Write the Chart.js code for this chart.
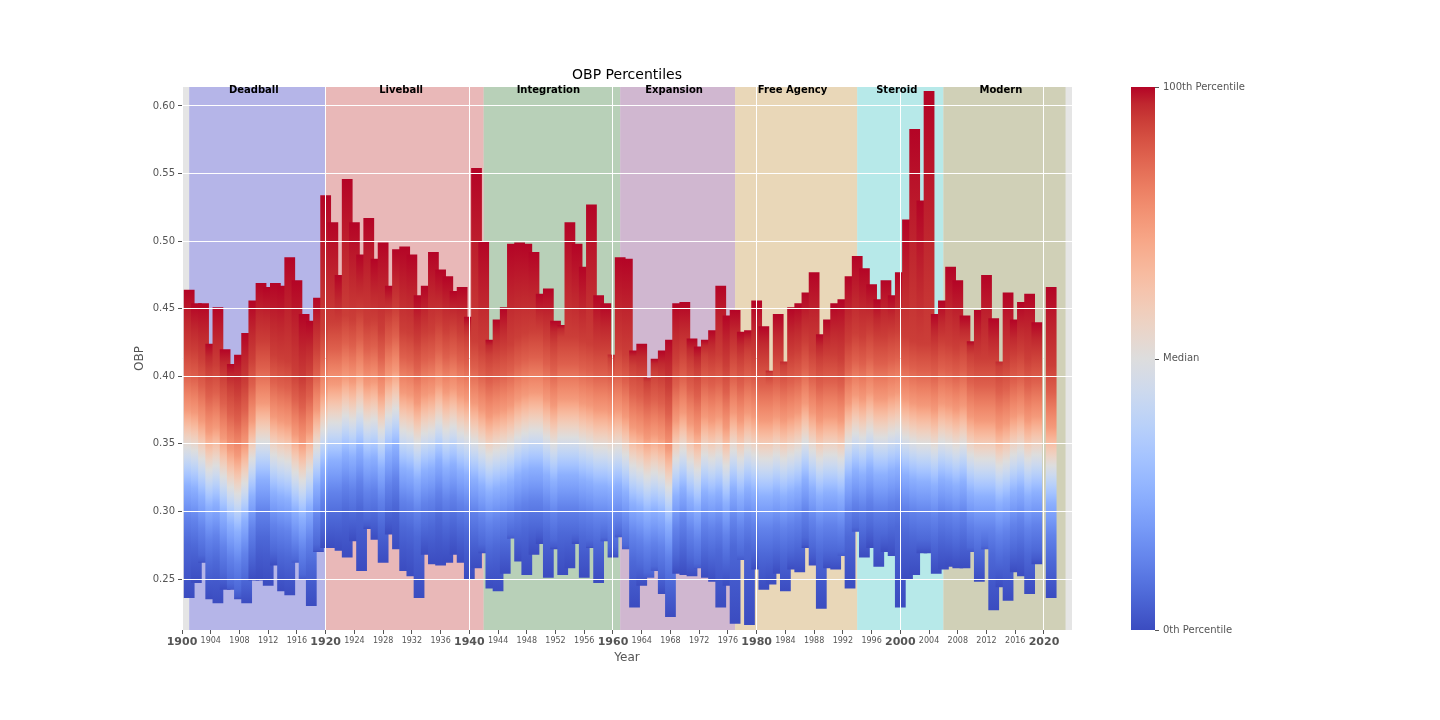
<!DOCTYPE html>
<html>
<head>
<meta charset="utf-8">
<title>OBP Percentiles</title>
<script src="https://cdn.jsdelivr.net/npm/chart.js@4.4.1/dist/chart.umd.min.js"></script>
<style>
    html, body { margin: 0; padding: 0; background: #fff; }
    #wrap { width: 1440px; height: 720px; }
</style>
</head>
<body>
<div id="wrap"><canvas id="obpChart" width="1440" height="720"></canvas></div>
<script>
// Seasons (2020 is missing in the source picture)
const years = [
    1901, 1902, 1903, 1904, 1905, 1906, 1907, 1908, 1909, 1910,
    1911, 1912, 1913, 1914, 1915, 1916, 1917, 1918, 1919, 1920,
    1921, 1922, 1923, 1924, 1925, 1926, 1927, 1928, 1929, 1930,
    1931, 1932, 1933, 1934, 1935, 1936, 1937, 1938, 1939, 1940,
    1941, 1942, 1943, 1944, 1945, 1946, 1947, 1948, 1949, 1950,
    1951, 1952, 1953, 1954, 1955, 1956, 1957, 1958, 1959, 1960,
    1961, 1962, 1963, 1964, 1965, 1966, 1967, 1968, 1969, 1970,
    1971, 1972, 1973, 1974, 1975, 1976, 1977, 1978, 1979, 1980,
    1981, 1982, 1983, 1984, 1985, 1986, 1987, 1988, 1989, 1990,
    1991, 1992, 1993, 1994, 1995, 1996, 1997, 1998, 1999, 2000,
    2001, 2002, 2003, 2004, 2005, 2006, 2007, 2008, 2009, 2010,
    2011, 2012, 2013, 2014, 2015, 2016, 2017, 2018, 2019, 2021
];

// 0th percentile OBP per season
const obpMin = [
    0.236, 0.247, 0.262, 0.235, 0.232, 0.242, 0.242, 0.235, 0.232, 0.249,
    0.249, 0.245, 0.260, 0.241, 0.238, 0.262, 0.250, 0.230, 0.270, 0.273,
    0.273, 0.271, 0.266, 0.278, 0.256, 0.287, 0.279, 0.262, 0.283, 0.272,
    0.256, 0.252, 0.236, 0.268, 0.261, 0.260, 0.262, 0.268, 0.262, 0.250,
    0.258, 0.269, 0.243, 0.241, 0.254, 0.280, 0.263, 0.253, 0.268, 0.276,
    0.251, 0.272, 0.253, 0.258, 0.276, 0.251, 0.273, 0.247, 0.278, 0.266,
    0.281, 0.272, 0.229, 0.245, 0.251, 0.256, 0.239, 0.222, 0.254, 0.253,
    0.252, 0.258, 0.251, 0.248, 0.229, 0.245, 0.217, 0.264, 0.216, 0.257,
    0.242, 0.246, 0.254, 0.241, 0.257, 0.255, 0.273, 0.260, 0.228, 0.258,
    0.257, 0.267, 0.243, 0.285, 0.266, 0.273, 0.259, 0.270, 0.267, 0.229,
    0.250, 0.253, 0.269, 0.269, 0.254, 0.257, 0.259, 0.258, 0.258, 0.270,
    0.248, 0.272, 0.227, 0.244, 0.234, 0.255, 0.252, 0.239, 0.261, 0.236
];

// median OBP per season
const obpMedian = [
    0.347, 0.345, 0.339, 0.331, 0.334, 0.326, 0.318, 0.313, 0.321, 0.339,
    0.352, 0.352, 0.342, 0.339, 0.337, 0.329, 0.323, 0.331, 0.347, 0.360,
    0.366, 0.366, 0.371, 0.368, 0.374, 0.366, 0.368, 0.360, 0.371, 0.376,
    0.360, 0.358, 0.352, 0.358, 0.360, 0.366, 0.360, 0.363, 0.358, 0.355,
    0.352, 0.347, 0.342, 0.345, 0.347, 0.350, 0.355, 0.358, 0.360, 0.360,
    0.355, 0.350, 0.355, 0.355, 0.355, 0.352, 0.350, 0.347, 0.347, 0.345,
    0.347, 0.342, 0.334, 0.331, 0.326, 0.329, 0.326, 0.318, 0.339, 0.345,
    0.337, 0.331, 0.342, 0.339, 0.342, 0.334, 0.345, 0.339, 0.345, 0.342,
    0.339, 0.339, 0.342, 0.339, 0.342, 0.345, 0.352, 0.345, 0.339, 0.342,
    0.342, 0.339, 0.352, 0.358, 0.355, 0.360, 0.355, 0.355, 0.358, 0.360,
    0.355, 0.352, 0.350, 0.350, 0.347, 0.352, 0.350, 0.347, 0.350, 0.342,
    0.339, 0.339, 0.339, 0.334, 0.337, 0.342, 0.345, 0.339, 0.342, 0.334
];

// 100th percentile OBP per season
const obpMax = [
    0.464, 0.454, 0.454, 0.424, 0.451, 0.420, 0.409, 0.416, 0.432, 0.456,
    0.469, 0.466, 0.469, 0.467, 0.488, 0.471, 0.446, 0.441, 0.458, 0.534,
    0.514, 0.475, 0.546, 0.514, 0.490, 0.517, 0.487, 0.499, 0.467, 0.494,
    0.496, 0.490, 0.460, 0.467, 0.492, 0.479, 0.474, 0.463, 0.466, 0.444,
    0.554, 0.500, 0.427, 0.442, 0.451, 0.498, 0.499, 0.498, 0.492, 0.461,
    0.465, 0.441, 0.438, 0.514, 0.498, 0.481, 0.527, 0.460, 0.454, 0.416,
    0.488, 0.487, 0.419, 0.424, 0.399, 0.413, 0.419, 0.427, 0.454, 0.455,
    0.428, 0.422, 0.427, 0.434, 0.467, 0.445, 0.449, 0.433, 0.434, 0.456,
    0.437, 0.404, 0.446, 0.411, 0.451, 0.454, 0.462, 0.477, 0.431, 0.442,
    0.454, 0.457, 0.474, 0.489, 0.480, 0.468, 0.457, 0.471, 0.460, 0.477,
    0.516, 0.583, 0.530, 0.611, 0.446, 0.456, 0.481, 0.471, 0.445, 0.426,
    0.449, 0.475, 0.443, 0.411, 0.462, 0.442, 0.455, 0.461, 0.440, 0.466
];

// typical spread of the percentiles around the median
const quantileLevels = [0.05, 0.125, 0.25, 0.5, 0.75, 0.875, 0.95];
const quantileOffsets = [-0.075, -0.052, -0.028, 0, 0.028, 0.054, 0.078];

// eras: first season and the season after the last one
const eraNames = ['Deadball', 'Liveball', 'Integration', 'Expansion', 'Free Agency', 'Steroid', 'Modern'];
const eraStart = [1901, 1920, 1942, 1961, 1977, 1994, 2006];
const eraEnd = [1920, 1942, 1961, 1977, 1994, 2006, 2023];
const eraColors = ['#b5b5e8', '#e9b8b8', '#b8d0b8', '#d0b7d0', '#e9d7b8', '#b7e9e9', '#d0d0b7'];

// ticks
const yearTicks = [1900, 1904, 1908, 1912, 1916, 1920, 1924, 1928, 1932, 1936, 1940,
    1944, 1948, 1952, 1956, 1960, 1964, 1968, 1972, 1976, 1980,
    1984, 1988, 1992, 1996, 2000, 2004, 2008, 2012, 2016, 2020];
const majorYears = [1900, 1920, 1940, 1960, 1980, 2000, 2020];
const obpTicks = [0.25, 0.30, 0.35, 0.40, 0.45, 0.50, 0.55, 0.60];
const colorbarLabels = ['0th Percentile', 'Median', '100th Percentile'];

// coolwarm colormap
const CMAP = [
    [59, 76, 192], [68, 90, 204], [77, 104, 215], [87, 117, 225], [98, 130, 234],
    [108, 142, 241], [119, 154, 247], [130, 165, 251], [141, 176, 254], [152, 185, 255],
    [163, 194, 255], [174, 201, 253], [184, 208, 249], [194, 213, 244], [204, 217, 238],
    [213, 219, 230], [221, 221, 221], [229, 216, 209], [236, 211, 197], [241, 204, 185],
    [245, 196, 173], [247, 187, 160], [247, 177, 148], [247, 166, 135], [244, 154, 123],
    [241, 141, 111], [236, 127, 99], [229, 112, 88], [222, 96, 77], [213, 80, 66],
    [203, 62, 56], [192, 40, 47], [180, 4, 38]
];
const rgb = c => 'rgb(' + c[0] + ',' + c[1] + ',' + c[2] + ')';

Chart.defaults.font.family = "'DejaVu Sans', sans-serif";

function barGradient(context) {
    const chart = context.chart;
    const i = context.dataIndex;
    if (!chart.chartArea || i === undefined) return rgb(CMAP[CMAP.length - 1]);
    const yScale = chart.scales.y;
    const lo = obpMin[i], hi = obpMax[i];
    const g = chart.ctx.createLinearGradient(0, yScale.getPixelForValue(lo), 0, yScale.getPixelForValue(hi));
    const qL = [0], qV = [lo];
    quantileLevels.forEach((L, j) => {
        qL.push(L);
        qV.push(Math.min(hi, Math.max(lo, obpMedian[i] + quantileOffsets[j])));
    });
    qL.push(1);
    qV.push(hi);
    for (let s = 0; s < CMAP.length; s++) {
        const L = s / (CMAP.length - 1);
        let k = 0;
        while (k < qL.length - 2 && L > qL[k + 1]) k++;
        const f = (L - qL[k]) / (qL[k + 1] - qL[k]);
        const v = qV[k] + f * (qV[k + 1] - qV[k]);
        g.addColorStop(Math.min(1, Math.max(0, (v - lo) / (hi - lo))), rgb(CMAP[s]));
    }
    return g;
}

const decorPlugin = {
    id: 'decor',
    beforeDraw(chart) {
        const {ctx, chartArea: a} = chart;
        ctx.save();
        ctx.fillStyle = '#fff';
        ctx.fillRect(0, 0, chart.width, chart.height);
        ctx.fillStyle = '#e5e5e5';
        ctx.fillRect(a.left, a.top, a.right - a.left, a.bottom - a.top);
        ctx.restore();
    },
    beforeDatasetsDraw(chart) {
        const {ctx, chartArea: a, scales: {x}} = chart;
        ctx.save();
        eraNames.forEach((name, i) => {
            const x0 = x.getPixelForValue(eraStart[i]);
            const x1 = x.getPixelForValue(eraEnd[i]);
            ctx.fillStyle = eraColors[i];
            ctx.fillRect(x0, a.top, x1 - x0, a.bottom - a.top);
        });
        ctx.restore();
    },
    afterDraw(chart) {
        const {ctx, chartArea: a, scales: {x}} = chart;
        ctx.save();
        // era labels, centred between first and last season
        ctx.fillStyle = '#000';
        ctx.font = "bold 10px 'DejaVu Sans'";
        ctx.textAlign = 'center';
        ctx.textBaseline = 'middle';
        eraNames.forEach((name, i) => {
            const cx = x.getPixelForValue((eraStart[i] + eraEnd[i] - 1) / 2);
            ctx.fillText(name, cx, a.top + 3);
        });
        // title
        ctx.font = "14px 'DejaVu Sans'";
        ctx.fillText('OBP Percentiles', (a.left + a.right) / 2, 75);
        // colorbar
        const cbL = 1131, cbW = 24;
        const g = ctx.createLinearGradient(0, a.bottom, 0, a.top);
        CMAP.forEach((c, s) => g.addColorStop(s / (CMAP.length - 1), rgb(c)));
        ctx.fillStyle = g;
        ctx.fillRect(cbL, a.top, cbW, a.bottom - a.top);
        ctx.strokeStyle = '#555';
        ctx.lineWidth = 1;
        ctx.fillStyle = '#555';
        ctx.font = "10px 'DejaVu Sans'";
        ctx.textAlign = 'left';
        colorbarLabels.forEach((label, i) => {
            const y = a.bottom - (a.bottom - a.top) * i / (colorbarLabels.length - 1);
            ctx.beginPath();
            ctx.moveTo(cbL + cbW, Math.round(y) + 0.5);
            ctx.lineTo(cbL + cbW + 4, Math.round(y) + 0.5);
            ctx.stroke();
            ctx.fillText(label, cbL + cbW + 8, y);
        });
        ctx.restore();
    }
};

new Chart(document.getElementById('obpChart'), {
    type: 'bar',
    data: {
        datasets: [{
            label: 'OBP',
            data: years.map((yr, i) => ({x: yr, y: [obpMin[i], obpMax[i]]})),
            backgroundColor: barGradient,
            borderWidth: 0,
            barPercentage: 1.5,
            categoryPercentage: 1.0
        }]
    },
    options: {
        responsive: false,
        animation: false,
        devicePixelRatio: 1,
        layout: { padding: { left: 100, right: 368, top: 87, bottom: 40 } },
        plugins: {
            legend: { display: false },
            tooltip: { enabled: false }
        },
        scales: {
            x: {
                type: 'linear',
                min: 1900,
                max: 2023.9,
                offset: false,
                afterBuildTicks: scale => { scale.ticks = yearTicks.map(v => ({value: v})); },
                afterFit: scale => { scale.height = 50; },
                ticks: {
                    autoSkip: false,
                    maxRotation: 0,
                    padding: 2,
                    color: '#555',
                    callback: v => String(v),
                    font: ctx => majorYears.includes(ctx.tick && ctx.tick.value)
                        ? {size: 11, weight: 'bold'} : {size: 8}
                },
                grid: {
                    z: 1,
                    offset: false,
                    color: ctx => majorYears.includes(ctx.tick && ctx.tick.value) ? '#fff' : 'rgba(0,0,0,0)',
                    tickColor: '#555',
                    tickLength: 4
                },
                border: { display: false },
                title: { display: true, text: 'Year', color: '#555', font: {size: 12}, padding: {top: 0, bottom: 15} }
            },
            y: {
                min: 0.2123,
                max: 0.614,
                afterBuildTicks: scale => { scale.ticks = obpTicks.map(v => ({value: v})); },
                afterFit: scale => { scale.width = 82; },
                ticks: {
                    padding: 3,
                    color: '#555',
                    font: {size: 10},
                    callback: v => v.toFixed(2)
                },
                grid: { z: 1, color: '#fff', tickColor: '#555', tickLength: 4 },
                border: { display: false },
                title: { display: true, text: 'OBP', color: '#555', font: {size: 12}, padding: {top: 33, bottom: 0} }
            }
        }
    },
    plugins: [decorPlugin]
});
</script>
</body>
</html>
